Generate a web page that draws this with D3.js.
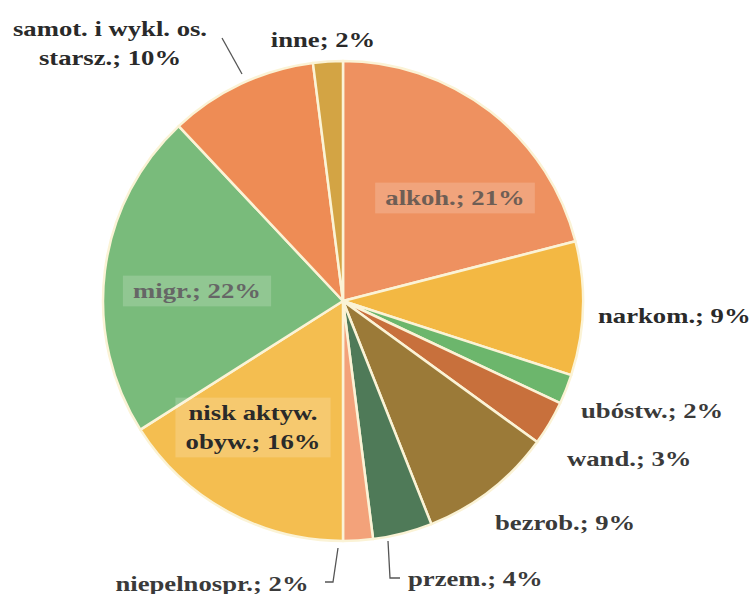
<!DOCTYPE html>
<html><head><meta charset="utf-8">
<script src="https://cdn.jsdelivr.net/npm/d3@7"></script>
<style>body{margin:0;background:#fff}svg{display:block}
text{font-family:"Liberation Serif","Times New Roman",Times,serif;font-weight:bold}</style>
</head><body>
<script>
const categories = ["alkoh.","narkom.","ubóstw.","wand.","bezrob.","przem.","niepelnospr.","nisk aktyw. obyw.","migr.","samot. i wykl. os. starsz.","inne"];
const values = [21,9,2,3,9,4,2,16,22,10,2];
const labelLines = [["alkoh.; 21%"],["narkom.; 9%"],["ubóstw.; 2%"],["wand.; 3%"],["bezrob.; 9%"],["przem.; 4%"],["niepelnospr.; 2%"],["nisk aktyw.","obyw.; 16%"],["migr.; 22%"],["samot. i wykl. os.","starsz.; 10%"],["inne; 2%"]];
const colors = ["#ee9160","#f3b843","#6cb66c","#c8703c","#9b7a38","#4f7a58","#f3a27a","#f4be50","#79bb7b","#ee8c55","#d3a444"];

// layout (label anchor points, not data)
const layout = [
  {x:455,y:205,anchor:"middle",box:true,fill:"#6e5e55"},
  {x:598,y:323,anchor:"start",fill:"#2a2a2a"},
  {x:581,y:418,anchor:"start",fill:"#3a3a3a"},
  {x:567,y:466,anchor:"start",fill:"#3a3a3a"},
  {x:495,y:530,anchor:"start",fill:"#3a3a3a"},
  {x:408,y:586,anchor:"start",fill:"#3a3a3a",leader:[[388,541],[390,578],[400,578]]},
  {x:212,y:591,anchor:"middle",fill:"#3a3a3a",leader:[[338,548],[333,582],[325,582]]},
  {x:253,y:420,anchor:"middle",box:true,fill:"#2a2a2a"},
  {x:197,y:298,anchor:"middle",box:true,fill:"#666"},
  {x:110,y:36,anchor:"middle",fill:"#2a2a2a",leader:[[222,38],[242,74]]},
  {x:323,y:47,anchor:"middle",fill:"#2a2a2a"}
];

const W=753,H=594,cx=343,cy=301,R=240;
const svg=d3.select("body").append("svg").attr("width",W).attr("height",H);
const pie=d3.pie().sort(null).value(d=>d)(values);
const arc=d3.arc().innerRadius(0).outerRadius(R);
const g=svg.append("g").attr("transform",`translate(${cx},${cy})`);
g.selectAll("path").data(pie).join("path")
 .attr("d",arc).attr("fill",(d,i)=>colors[i])
 .attr("stroke","#fbf3d6").attr("stroke-width",2.5).attr("stroke-linejoin","round");

const line=d3.line();
layout.forEach((L,i)=>{
  if(L.leader){
    svg.append("path").attr("d",line(L.leader)).attr("fill","none").attr("stroke","#555").attr("stroke-width",1.3);
  }
});
const fs=21, lh=29, sx=1.27;
layout.forEach((L,i)=>{
  const lines=labelLines[i];
  const grp=svg.append("g").attr("transform",`translate(${L.x},${L.y}) scale(${sx},1)`);
  const t=grp.append("text").attr("font-size",fs).attr("fill",L.fill).attr("text-anchor",L.anchor);
  lines.forEach((s,k)=>t.append("tspan").attr("x",0).attr("y",k*lh).text(s));
  if(L.box){
    const b=t.node().getBBox();
    grp.insert("rect","text").attr("x",b.x-8).attr("y",b.y-4).attr("width",b.width+16).attr("height",b.height+8)
      .attr("fill","#fff").attr("fill-opacity",0.18);
  }
});
</script>
</body></html>
